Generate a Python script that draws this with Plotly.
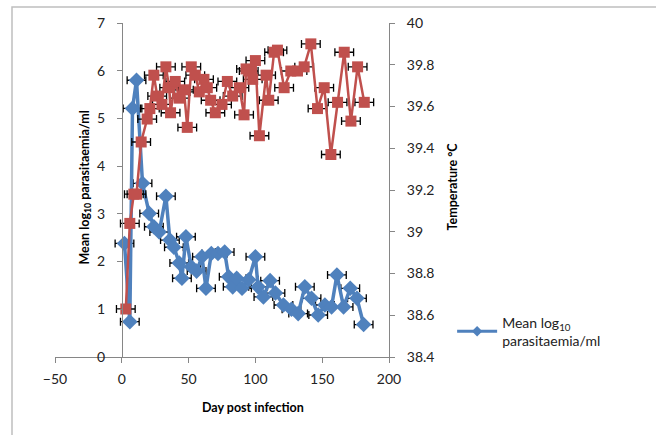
import plotly.graph_objects as go

# Mean log10 parasitaemia/ml (left axis)
para_day = [2, 6, 8, 11, 15.5, 20.5, 24, 28, 33, 36, 39, 43, 45, 48, 52, 56, 60, 63, 67, 72,
            77, 80, 83, 86, 90, 95, 100, 102, 106, 111, 115, 121, 127, 132, 137, 142, 147,
            152, 157, 161, 166, 171, 176, 181]
para_val = [2.38, 0.74, 5.21, 5.8, 3.64, 3.01, 2.73, 2.62, 3.37, 2.45, 2.3, 1.97, 1.65, 2.52,
            1.89, 1.8, 2.1, 1.44, 2.17, 2.17, 2.2, 1.68, 1.47, 1.65, 1.44, 1.62, 2.1, 1.47,
            1.26, 1.6, 1.34, 1.09, 1.0, 0.91, 1.47, 1.23, 0.88, 1.09, 1.05, 1.72, 1.05, 1.44,
            1.23, 0.68]

# Temperature °C (right axis)
temp_day = [3, 6, 9, 11, 14.5, 19, 21, 24, 26.5, 30, 33, 35.5, 36.5, 40, 43, 46.5, 49, 52, 55,
            58, 61.5, 64, 66.5, 70, 75, 79, 83, 88, 91.5, 93, 95, 98, 100, 103, 108, 110, 114,
            116.5, 121.5, 126.5, 131.5, 136.5, 141.5, 146.5, 151.5, 156.5, 161.5, 166.5,
            171.5, 176.5, 181.5]
temp_val = [38.63, 39.04, 39.18, 39.18, 39.43, 39.54, 39.59, 39.75, 39.65, 39.61, 39.79, 39.69,
            39.57, 39.72, 39.64, 39.68, 39.50, 39.79, 39.75, 39.67, 39.73, 39.69, 39.63, 39.57,
            39.61, 39.72, 39.65, 39.69, 39.56, 39.78, 39.77, 39.73, 39.82, 39.46, 39.75, 39.63,
            39.86, 39.87, 39.69, 39.77, 39.77, 39.79, 39.90, 39.59, 39.69, 39.37, 39.62, 39.86,
            39.53, 39.79, 39.62]

x_err = 7
x_ticks = [-50, 0, 50, 100, 150, 200]
y_ticks = [0, 1, 2, 3, 4, 5, 6, 7]
t_ticks = [38.4, 38.6, 38.8, 39.0, 39.2, 39.4, 39.6, 39.8, 40.0]
t_labels = ["38.4", "38.6", "38.8", "39", "39.2", "39.4", "39.6", "39.8", "40"]

FONT = "Lato"
AX = "#868686"
BLUE = "#4F81BD"
RED = "#C0504D"

fig = go.Figure()
fig.add_trace(go.Scatter(
    x=para_day, y=para_val, mode="lines+markers", showlegend=False,
    name="Mean log10 parasitaemia/ml",
    line=dict(color=BLUE, width=3.5),
    marker=dict(symbol="diamond", size=12, color=BLUE),
    error_x=dict(type="constant", value=x_err, color="black", thickness=1.3, width=4),
    yaxis="y", cliponaxis=False))
fig.add_trace(go.Scatter(
    x=temp_day, y=temp_val, mode="lines+markers", showlegend=False,
    name="Temperature",
    line=dict(color=RED, width=2.5),
    marker=dict(symbol="square", size=11, color=RED),
    error_x=dict(type="constant", value=x_err, color="black", thickness=1.3, width=4),
    yaxis="y2", cliponaxis=False))
# legend entry (small marker like the reference legend)
fig.add_trace(go.Scatter(
    x=[None], y=[None], mode="lines+markers",
    name="Mean log<sub>10</sub><br>parasitaemia/ml",
    line=dict(color=BLUE, width=3),
    marker=dict(symbol="diamond", size=8, color=BLUE),
    yaxis="y"))

fig.update_layout(
    width=656, height=435,
    margin=dict(l=55, r=267, t=23, b=78),
    paper_bgcolor="white", plot_bgcolor="white",
    font=dict(family=FONT, size=14, color="#222222"),
    xaxis=dict(range=[-50, 200], tickvals=x_ticks, showgrid=False, zeroline=False,
               showline=True, linecolor=AX, linewidth=1, ticks="outside", ticklen=5,
               tickcolor=AX, domain=[0, 1], anchor="y", ticklabelstandoff=4),
    yaxis=dict(range=[0, 7], tickvals=y_ticks, showgrid=False, zeroline=False,
               showline=True, linecolor=AX, linewidth=1, ticks="outside", ticklen=5,
               tickcolor=AX, anchor="free", position=0.2, ticklabelstandoff=9),
    yaxis2=dict(range=[38.4, 40], tickvals=t_ticks, ticktext=t_labels, showgrid=False,
                zeroline=False, showline=True, linecolor=AX, linewidth=1, ticks="outside",
                ticklen=5, tickcolor=AX, overlaying="y", side="right", anchor="x",
                ticklabelstandoff=9),
    legend=dict(x=1.189, y=0.076, xanchor="left", yanchor="middle",
                font=dict(family=FONT, size=14, color="#222222"),
                bgcolor="rgba(0,0,0,0)", valign="middle", itemwidth=40),
    showlegend=True,
)

fig.add_annotation(text="<b>Mean log<sub>10</sub> parasitaemia/ml</b>", xref="paper", yref="paper",
                   x=0.06, y=0.506, textangle=-90, showarrow=False,
                   font=dict(family=FONT, size=12.5, color="black"))
fig.add_annotation(text="<b>Temperature °C</b>", xref="paper", yref="paper",
                   x=1.2186, y=0.509, textangle=-90, showarrow=False,
                   font=dict(family=FONT, size=12.5, color="black"))
fig.add_annotation(text="<b>Day post infection</b>", xref="paper", yref="paper",
                   x=0.593, y=-0.18, showarrow=False,
                   font=dict(family=FONT, size=12.5, color="black"))

fig.add_shape(type="rect", xref="paper", yref="paper",
              x0=(12 - 55) / 334, x1=2.0, y0=-0.5, y1=1 + 16 / 334,
              line=dict(color="#BFBFBF", width=1.5), fillcolor="rgba(0,0,0,0)", layer="below")

fig.write_html("out.html")
